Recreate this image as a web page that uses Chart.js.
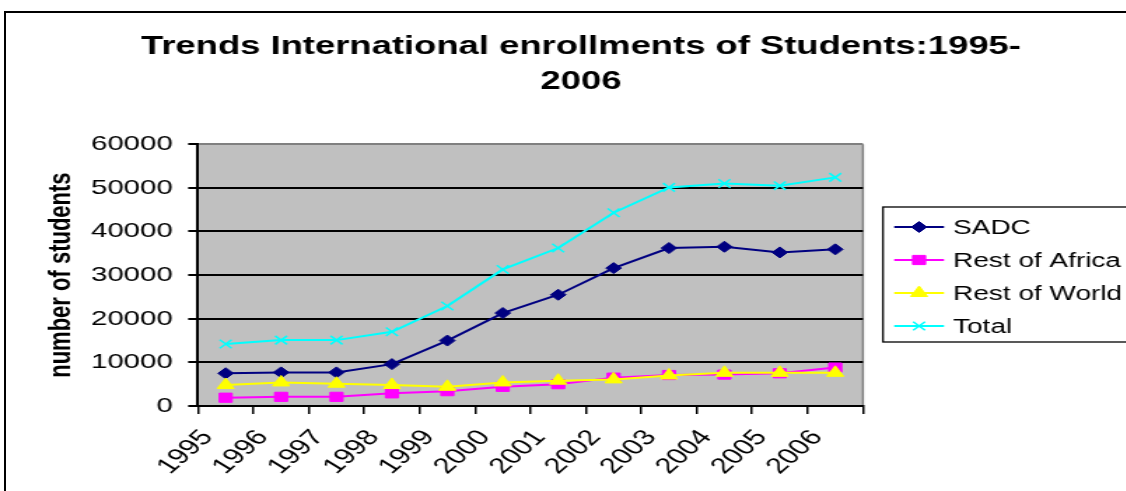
<!DOCTYPE html>
<html>
<head>
<meta charset="utf-8">
<script src="https://cdn.jsdelivr.net/npm/chart.js@4/dist/chart.umd.min.js"></script>
<style>
  html, body { margin: 0; padding: 0; background: #fff; width: 1126px; height: 491px; overflow: hidden; }
  #frame { position: absolute; left: 4px; top: 11px; width: 1200px; height: 600px; border-left: 2px solid #000; border-top: 2px solid #000; }
  /* the original picture is stretched sideways, so the chart is drawn narrow and widened */
  #wrap { position: absolute; left: 0; top: 0; width: 830px; height: 491px; transform: scaleX(1.4); transform-origin: 0 0; }
</style>
</head>
<body>
<div id="frame"></div>
<div id="wrap"><canvas id="chart" width="830" height="491"></canvas></div>
<script>
// Enrollment data
const years = ['1995', '1996', '1997', '1998', '1999', '2000', '2001', '2002', '2003', '2004', '2005', '2006'];
const sadc = [7500, 7700, 7700, 9600, 15000, 21300, 25500, 31600, 36200, 36500, 35200, 35900];
const restOfAfrica = [1900, 2100, 2100, 2900, 3400, 4400, 5000, 6500, 7100, 7200, 7500, 8800];
const restOfWorld = [4800, 5400, 5100, 4800, 4400, 5400, 5800, 6100, 7000, 7600, 7600, 7600];
const total = [14200, 15100, 15100, 17000, 22900, 31300, 36200, 44300, 50100, 51000, 50500, 52400];

const FONT = '"Liberation Sans", Arial, sans-serif';

// grey plot area like Excel
const plotArea = {
  id: 'plotArea',
  beforeDraw(chart) {
    const { ctx, chartArea: a } = chart;
    ctx.save();
    ctx.fillStyle = '#c0c0c0';
    ctx.fillRect(a.left, a.top, a.right - a.left, a.bottom - a.top);
    ctx.strokeStyle = '#808080';
    ctx.lineWidth = 1.5;
    ctx.beginPath();
    ctx.moveTo(a.right, a.top);
    ctx.lineTo(a.right, a.bottom);
    ctx.stroke();
    ctx.restore();
  }
};

// boxed legend with line + marker samples
const boxLegend = {
  id: 'boxLegend',
  afterDraw(chart) {
    const { ctx, chartArea } = chart;
    const x = chartArea.right + 14.3;
    const top = 207;
    ctx.save();
    ctx.strokeStyle = '#000';
    ctx.lineWidth = 1.3;
    ctx.strokeRect(x, top, 200, 135);
    chart.data.datasets.forEach((ds, i) => {
      const y = top + 20 + i * 33;
      ctx.strokeStyle = ds.borderColor;
      ctx.lineWidth = ds.borderWidth;
      ctx.beginPath();
      ctx.moveTo(x + 8, y);
      ctx.lineTo(x + 43.6, y);
      ctx.stroke();
      ctx.fillStyle = ds.pointBackgroundColor;
      ctx.strokeStyle = ds.pointBorderColor;
      ctx.lineWidth = ds.pointBorderWidth;
      Chart.helpers.drawPoint(ctx, { pointStyle: ds.pointStyle, radius: ds.pointRadius, borderWidth: ds.pointBorderWidth }, x + 25.8, y);
      ctx.fillStyle = '#000';
      ctx.font = '20px ' + FONT;
      ctx.textBaseline = 'middle';
      ctx.fillText(ds.label, x + 50, y + 1);
    });
    ctx.restore();
  }
};

new Chart(document.getElementById('chart'), {
  type: 'line',
  data: {
    labels: years,
    datasets: [
      { label: 'SADC', data: sadc, borderColor: '#000080', pointBackgroundColor: '#000080', pointBorderColor: '#000080',
        pointStyle: 'rectRot', pointRadius: 5.5, pointBorderWidth: 1, borderWidth: 2, order: 4 },
      { label: 'Rest of Africa', data: restOfAfrica, borderColor: '#ff00ff', pointBackgroundColor: '#ff00ff', pointBorderColor: '#ff00ff',
        pointStyle: 'rect', pointRadius: 6.5, pointBorderWidth: 1, borderWidth: 2, order: 3 },
      { label: 'Rest of World', data: restOfWorld, borderColor: '#ffff00', pointBackgroundColor: '#ffff00', pointBorderColor: '#ffff00',
        pointStyle: 'triangle', pointRadius: 7, pointBorderWidth: 1, borderWidth: 2, order: 2 },
      { label: 'Total', data: total, borderColor: '#00ffff', pointBackgroundColor: '#00ffff', pointBorderColor: '#00ffff',
        pointStyle: 'crossRot', pointRadius: 6, pointBorderWidth: 1.5, borderWidth: 2, order: 1 }
    ]
  },
  options: {
    responsive: false,
    animation: false,
    events: [],
    layout: { padding: 0 },
    plugins: {
      legend: { display: false },
      tooltip: { enabled: false },
      title: {
        display: true,
        text: ['Trends International enrollments of Students:1995-', '2006'],
        color: '#000',
        font: { family: FONT, size: 26, weight: 'bold', lineHeight: 1.35 },
        padding: { top: 29.5, bottom: 44.5 }
      }
    },
    scales: {
      x: {
        offset: true,
        grid: { offset: true, drawOnChartArea: false, tickLength: 8, color: '#000', lineWidth: 1.5 },
        border: { color: '#000', width: 2 },
        ticks: { autoSkip: false, minRotation: 50, maxRotation: 50, labelOffset: -13, padding: 11,
                 color: '#000', font: { family: FONT, size: 22 } },
        afterFit(scale) { scale.height = 85; }
      },
      y: {
        min: 0,
        max: 60000,
        grid: { color: c => c.tick && c.tick.value === 60000 ? '#808080' : '#000', lineWidth: 2, tickLength: 7, tickColor: '#000' },
        border: { color: '#000', width: 2 },
        ticks: { stepSize: 10000, padding: 11, color: '#000', font: { family: FONT, size: 21 },
                 callback: v => String(v) },
        title: { display: true, text: 'number of students', color: '#000',
                 font: { family: FONT, size: 22, weight: 'bold' }, padding: { top: 31 } },
        afterFit(scale) { scale.width = 141.4; }
      },
      legendSpace: {
        position: 'right',
        grid: { display: false },
        border: { display: false },
        ticks: { display: false },
        afterFit(scale) { scale.width = 213.6; }
      }
    }
  },
  plugins: [plotArea, boxLegend]
});
</script>
</body>
</html>
